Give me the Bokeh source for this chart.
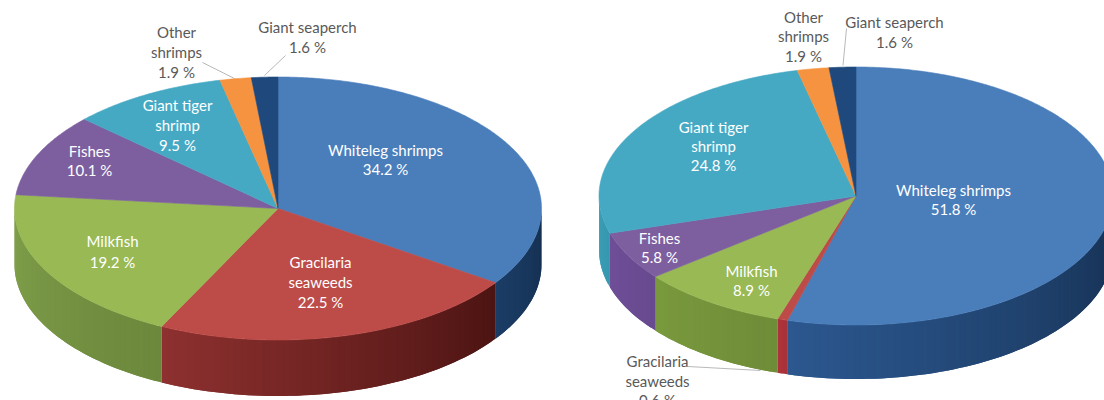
import numpy as np
from bokeh.plotting import figure
from bokeh.embed import file_html
from bokeh.resources import INLINE
from bokeh.core.properties import value

# ---------- data (percent labels; clockwise from 12 o'clock)
species = ["Whiteleg shrimps", "Gracilaria seaweeds", "Milkfish", "Fishes",
           "Giant tiger shrimp", "Other shrimps", "Giant seaperch"]
left_values = [34.2, 22.5, 19.2, 10.1, 9.5, 1.9, 1.6]
right_values = [51.8, 0.6, 8.9, 5.8, 24.8, 1.9, 1.6]

# ---------- styles
top_colors = ["#4a7ebb", "#bd4b48", "#98b954", "#7d5fa0", "#46a9c4", "#f59340", "#1f497d"]
left_side_start = ["#1b3d66", "#8e3130", "#80a04b", "#6b4e8c", "#3b93ab", "#c87428", "#17375e"]
left_side_end = ["#152f50", "#4c1412", "#6c883c", "#5f4480", "#34879e", "#c87428", "#17375e"]
right_side_start = ["#2c5890", "#b0343a", "#7a9a3e", "#6f4f98", "#3ca0b8", "#c87428", "#17375e"]
right_side_end = ["#152f50", "#a8323a", "#6f8c38", "#684a90", "#3798b0", "#c87428", "#17375e"]

# ---------- layout in page pixels
left_geo = dict(cx=277.5, cy=208, rx=263.5, ry=131.5, depth=56)
right_geo = dict(cx=855.5, cy=195.5, rx=257, ry=129, depth=54)

left_labels = [
    (["Whiteleg shrimps", "34.2 %"], 385, [150, 169], "#ffffff"),
    (["Gracilaria", "seaweeds", "22.5 %"], 320, [262, 282, 302], "#ffffff"),
    (["Milkfish", "19.2 %"], 112, [241, 262], "#ffffff"),
    (["Fishes", "10.1 %"], 89, [151, 170], "#ffffff"),
    (["Giant tiger", "shrimp", "9.5 %"], 177, [105, 125, 145], "#ffffff"),
    (["Other", "shrimps", "1.9 %"], 176, [32, 52, 72], "#595959"),
    (["Giant seaperch", "1.6 %"], 307, [27, 47], "#595959"),
]
right_labels = [
    (["Whiteleg shrimps", "51.8 %"], 953, [190, 209], "#ffffff"),
    (["Giant tiger", "shrimp", "24.8 %"], 713, [127, 146, 165], "#ffffff"),
    (["Fishes", "5.8 %"], 659, [238, 257], "#ffffff"),
    (["Milkfish", "8.9 %"], 751, [271, 290], "#ffffff"),
    (["Other", "shrimps", "1.9 %"], 803, [17, 36, 56], "#595959"),
    (["Giant seaperch", "1.6 %"], 894, [22, 42], "#595959"),
    (["Gracilaria", "seaweeds", "0.6 %"], 657, [361, 381, 400], "#595959"),
]
leaders = [([202, 234], [62, 78]), ([285, 264], [55, 75]),
           ([846, 842.5], [28, 65]), ([687.5, 760], [366, 370])]

p = figure(width=1104, height=400, x_range=(0, 1104), y_range=(400, 0),
           output_backend="svg", toolbar_location=None, min_border=0)
p.axis.visible = False
p.grid.visible = False
p.outline_line_color = None


def rim(g, t, drop=0.0):
    t = np.asarray(t, dtype=float)
    return g["cx"] + g["rx"] * np.sin(t), g["cy"] - g["ry"] * np.cos(t) + drop


def mix(a, b, f):
    ca = [int(a[i:i + 2], 16) for i in (1, 3, 5)]
    cb = [int(b[i:i + 2], 16) for i in (1, 3, 5)]
    return "#%02x%02x%02x" % tuple(int(round(x + (y - x) * f)) for x, y in zip(ca, cb))


def draw_pie(values, g, side_start, side_end):
    v = np.asarray(values, dtype=float)
    edges = np.concatenate([[0], np.cumsum(v) / v.sum()]) * 2 * np.pi
    # side wall: only the front half of the rim is visible; strips overlap to hide seams
    xs, ys, cols = [], [], []
    for i in range(len(v)):
        a, b = max(edges[i], np.pi / 2), min(edges[i + 1], 3 * np.pi / 2)
        if b <= a:
            continue
        n = max(2, int((b - a) / np.radians(1.5)))
        tt = np.linspace(a, b, n + 1)
        for k in range(n):
            t = np.linspace(tt[k], tt[min(k + 2, n)], 3)
            x1, y1 = rim(g, t)
            x2, y2 = rim(g, t[::-1], g["depth"])
            xs.append(np.concatenate([x1, x2]).tolist())
            ys.append(np.concatenate([y1, y2]).tolist())
            cols.append(mix(side_end[i], side_start[i], k / n))
    p.patches(xs, ys, fill_color=cols, line_color=None)
    # top faces
    xs, ys = [], []
    for i in range(len(v)):
        t = np.linspace(edges[i], edges[i + 1], max(3, int((edges[i + 1] - edges[i]) / 0.01)))
        x, y = rim(g, t)
        xs.append([g["cx"], *x.tolist()])
        ys.append([g["cy"], *y.tolist()])
    p.patches(xs, ys, fill_color=top_colors, line_color=top_colors, line_width=0.6)


draw_pie(left_values, left_geo, left_side_start, left_side_end)
draw_pie(right_values, right_geo, right_side_start, right_side_end)

for lx, ly in leaders:
    p.line(lx, ly, line_color="#a6a6a6", line_width=0.8)

for lines, x, yy, col in left_labels + right_labels:
    p.text([x] * len(lines), [y - 0.5 for y in yy], text=lines, text_color=col,
           text_font=value("Lato"), text_font_size="15px",
           text_align="center", text_baseline="middle")

open("out.html", "w").write(file_html(p, INLINE))
